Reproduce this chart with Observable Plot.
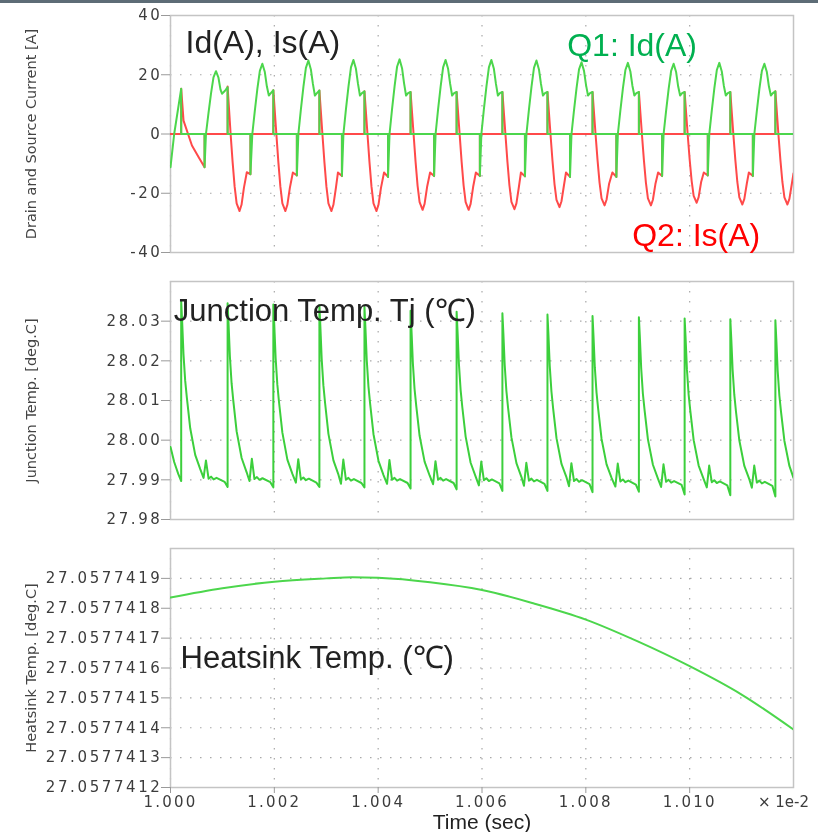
<!DOCTYPE html>
<html><head><meta charset="utf-8">
<script src="https://cdn.jsdelivr.net/npm/d3@7"></script>
<script src="https://cdn.jsdelivr.net/npm/@observablehq/plot@0.6"></script>
<style>
html,body{margin:0;padding:0;background:#fff;overflow:hidden}
#wrap{position:relative;width:818px;height:832px;background:#fff;overflow:hidden}
#bar{position:absolute;left:0;top:0;width:818px;height:3px;background:#5d6c76;z-index:2}
.panel{position:absolute;left:0}
.panel svg{display:block}
g[aria-label="y-axis tick label"]{letter-spacing:2.6px}
g[aria-label="x-axis tick label"]{letter-spacing:2.2px}
</style></head><body><div id="wrap"><div id="bar"></div></div>
<script>
// ---- tick values ----
const timeTicks = [1.000, 1.002, 1.004, 1.006, 1.008, 1.010];
const currentTicks = [-40, -20, 0, 20, 40];
const tjTicks = [27.98, 27.99, 28.00, 28.01, 28.02, 28.03];
const heatTicks = [27.0577412, 27.0577413, 27.0577414, 27.0577415, 27.0577416, 27.0577417, 27.0577418, 27.0577419];

// ---- Q1: Id(A)  [time (x1e-2 s), current A] ----
const q1Id = [
[1.000000,-11.2],[1.000071,0],[1.000206,15.3],[1.000206,0],[1.000656,0],[1.000656,-11.2],
[1.000683,0],[1.000731,7.0],[1.000780,13.6],[1.000828,19.1],[1.000876,21.2],[1.000924,19.0],[1.000963,15.0],[1.000992,13.6],[1.001050,14.6],[1.001100,15.8],[1.001100,0],[1.001540,0],[1.001540,-13.6],
[1.001576,0],[1.001624,7.8],[1.001673,15.2],[1.001721,21.3],[1.001769,23.7],[1.001817,20.9],[1.001856,16.1],[1.001894,13.0],[1.001933,13.8],[1.001981,14.8],[1.001981,0],[1.002434,0],[1.002434,-14.0],
[1.002463,0],[1.002511,8.2],[1.002560,15.9],[1.002608,22.3],[1.002656,24.8],[1.002704,21.8],[1.002743,16.9],[1.002781,13.0],[1.002820,13.8],[1.002868,14.7],[1.002868,0],[1.003302,0],[1.003302,-14.2],
[1.003331,0],[1.003379,8.3],[1.003428,16.0],[1.003476,22.5],[1.003524,25.0],[1.003572,22.0],[1.003611,17.0],[1.003649,13.0],[1.003688,13.8],[1.003736,14.4],[1.003736,0],[1.004190,0],[1.004190,-14.5],
[1.004219,0],[1.004267,8.3],[1.004316,16.1],[1.004364,22.7],[1.004412,25.2],[1.004460,22.2],[1.004499,17.1],[1.004537,13.0],[1.004576,13.8],[1.004624,14.2],[1.004624,0],[1.005077,0],[1.005077,-14.2],
[1.005106,0],[1.005154,8.3],[1.005203,16.0],[1.005251,22.5],[1.005299,25.0],[1.005347,22.0],[1.005386,17.0],[1.005424,13.0],[1.005463,13.8],[1.005511,14.2],[1.005511,0],[1.005959,0],[1.005959,-14.2],
[1.005988,0],[1.006036,8.3],[1.006085,16.0],[1.006133,22.5],[1.006181,25.0],[1.006229,22.0],[1.006268,17.0],[1.006306,13.0],[1.006345,13.8],[1.006393,14.2],[1.006393,0],[1.006827,0],[1.006827,-14.3],
[1.006856,0],[1.006904,8.2],[1.006953,15.9],[1.007001,22.3],[1.007049,24.8],[1.007097,21.8],[1.007136,16.9],[1.007174,13.0],[1.007213,13.8],[1.007261,14.2],[1.007261,0],[1.007695,0],[1.007695,-14.5],
[1.007724,0],[1.007772,8.0],[1.007821,15.5],[1.007869,21.8],[1.007917,24.2],[1.007965,21.3],[1.008004,16.5],[1.008042,13.0],[1.008081,13.8],[1.008129,14.2],[1.008129,0],[1.008588,0],[1.008588,-14.5],
[1.008617,0],[1.008665,7.9],[1.008714,15.4],[1.008762,21.6],[1.008810,24.0],[1.008858,21.1],[1.008897,16.3],[1.008935,13.0],[1.008974,13.8],[1.009022,14.2],[1.009022,0],[1.009469,0],[1.009469,-14.2],
[1.009498,0],[1.009546,7.8],[1.009595,15.2],[1.009643,21.3],[1.009691,23.7],[1.009739,20.9],[1.009778,16.1],[1.009816,13.0],[1.009855,13.8],[1.009903,14.2],[1.009903,0],[1.010349,0],[1.010349,-14.0],
[1.010378,0],[1.010426,7.9],[1.010475,15.4],[1.010523,21.6],[1.010571,24.0],[1.010619,21.1],[1.010658,16.3],[1.010696,13.0],[1.010735,13.8],[1.010783,14.2],[1.010783,0],[1.011217,0],[1.011217,-14.2],
[1.011246,0],[1.011294,7.8],[1.011343,15.2],[1.011391,21.3],[1.011439,23.7],[1.011487,20.9],[1.011526,16.1],[1.011564,13.0],[1.011603,13.8],[1.011651,14.4],[1.011651,0],[1.012000,0]
];

// ---- Q2: Is(A) ----
const q2Is = [
[1.000000,0],[1.000206,0],[1.000206,15.3],[1.000251,4.5],[1.000413,-3.9],[1.000540,-7.8],[1.000656,-11.2],[1.000656,0],
[1.001100,0],[1.001100,16.0],[1.001129,8.0],[1.001158,0],[1.001197,-9.6],[1.001235,-17.7],[1.001274,-23.4],[1.001330,-26.0],[1.001368,-23.9],[1.001414,-18.2],[1.001470,-12.9],[1.001540,-13.6],[1.001540,0],
[1.001981,0],[1.001981,14.8],[1.002010,7.4],[1.002039,0],[1.002078,-9.6],[1.002116,-17.7],[1.002155,-23.4],[1.002213,-26.0],[1.002251,-23.9],[1.002299,-18.2],[1.002357,-13.0],[1.002434,-14.0],[1.002434,0],
[1.002868,0],[1.002868,14.7],[1.002897,7.4],[1.002926,0],[1.002965,-9.6],[1.003003,-17.7],[1.003042,-23.4],[1.003100,-26.0],[1.003138,-23.9],[1.003186,-18.2],[1.003225,-13.0],[1.003302,-14.2],[1.003302,0],
[1.003736,0],[1.003736,14.4],[1.003765,7.2],[1.003794,0],[1.003833,-9.6],[1.003871,-17.7],[1.003910,-23.4],[1.003968,-26.0],[1.004006,-23.9],[1.004054,-18.2],[1.004113,-13.0],[1.004190,-14.5],[1.004190,0],
[1.004624,0],[1.004624,14.2],[1.004653,7.1],[1.004682,0],[1.004721,-9.5],[1.004759,-17.4],[1.004798,-23.0],[1.004856,-25.6],[1.004894,-23.6],[1.004942,-17.9],[1.005000,-13.0],[1.005077,-14.2],[1.005077,0],
[1.005511,0],[1.005511,14.2],[1.005540,7.1],[1.005569,0],[1.005608,-9.5],[1.005646,-17.4],[1.005685,-23.0],[1.005743,-25.6],[1.005781,-23.6],[1.005829,-17.9],[1.005882,-13.0],[1.005959,-14.2],[1.005959,0],
[1.006393,0],[1.006393,14.2],[1.006422,7.1],[1.006451,0],[1.006490,-9.4],[1.006528,-17.3],[1.006567,-22.9],[1.006625,-25.4],[1.006663,-23.4],[1.006711,-17.8],[1.006750,-13.0],[1.006827,-14.3],[1.006827,0],
[1.007261,0],[1.007261,14.2],[1.007290,7.1],[1.007319,0],[1.007358,-9.1],[1.007396,-16.8],[1.007435,-22.2],[1.007493,-24.7],[1.007531,-22.7],[1.007579,-17.3],[1.007618,-13.0],[1.007695,-14.5],[1.007695,0],
[1.008129,0],[1.008129,14.2],[1.008158,7.1],[1.008187,0],[1.008226,-8.9],[1.008264,-16.4],[1.008303,-21.7],[1.008361,-24.1],[1.008399,-22.2],[1.008447,-16.9],[1.008511,-13.0],[1.008588,-14.5],[1.008588,0],
[1.009022,0],[1.009022,14.2],[1.009051,7.1],[1.009080,0],[1.009119,-8.9],[1.009157,-16.4],[1.009196,-21.7],[1.009254,-24.1],[1.009292,-22.2],[1.009340,-16.9],[1.009392,-13.0],[1.009469,-14.2],[1.009469,0],
[1.009903,0],[1.009903,14.2],[1.009932,7.1],[1.009961,0],[1.010000,-8.6],[1.010038,-15.8],[1.010077,-20.9],[1.010135,-23.2],[1.010173,-21.3],[1.010221,-16.2],[1.010272,-13.0],[1.010349,-14.0],[1.010349,0],
[1.010783,0],[1.010783,14.2],[1.010812,7.1],[1.010841,0],[1.010880,-8.8],[1.010918,-16.2],[1.010957,-21.4],[1.011015,-23.8],[1.011053,-21.9],[1.011101,-16.7],[1.011140,-13.0],[1.011217,-14.2],[1.011217,0],
[1.011651,0],[1.011651,14.4],[1.011680,7.2],[1.011709,0],[1.011748,-8.8],[1.011786,-16.2],[1.011825,-21.4],[1.011883,-23.8],[1.011921,-21.9],[1.011969,-16.7],[1.012000,-13.3]
];

// ---- Junction temperature Tj [deg.C] ----
const tj = [
[1.000000,27.9983],[1.000071,27.9945],[1.000149,27.9915],[1.000206,27.9897],[1.000206,28.0351],
[1.000225,28.0297],[1.000250,28.0217],[1.000283,28.0150],[1.000316,28.0106],[1.000380,28.0030],[1.000476,27.9963],[1.000573,27.9927],[1.000637,27.9905],[1.000683,27.9949],[1.000733,27.9903],[1.000781,27.9908],[1.000830,27.9901],[1.000887,27.9905],[1.001042,27.9895],[1.001100,27.9882],[1.001100,28.0345],
[1.001119,28.0291],[1.001144,28.0211],[1.001177,28.0143],[1.001210,28.0099],[1.001274,28.0022],[1.001370,27.9955],[1.001467,27.9919],[1.001521,27.9897],[1.001567,27.9953],[1.001617,27.9902],[1.001665,27.9907],[1.001714,27.9900],[1.001771,27.9904],[1.001923,27.9894],[1.001981,27.9881],[1.001981,28.0342],
[1.002000,28.0288],[1.002025,28.0207],[1.002058,28.0140],[1.002091,28.0095],[1.002155,28.0019],[1.002251,27.9951],[1.002348,27.9915],[1.002415,27.9893],[1.002461,27.9952],[1.002511,27.9901],[1.002559,27.9906],[1.002608,27.9899],[1.002665,27.9903],[1.002810,27.9893],[1.002868,27.9882],[1.002868,28.0340],
[1.002887,28.0286],[1.002912,28.0205],[1.002945,28.0138],[1.002978,28.0093],[1.003042,28.0016],[1.003138,27.9949],[1.003235,27.9913],[1.003283,27.9890],[1.003329,27.9951],[1.003379,27.9900],[1.003427,27.9905],[1.003476,27.9898],[1.003533,27.9902],[1.003678,27.9892],[1.003736,27.9881],[1.003736,28.0336],
[1.003755,28.0282],[1.003780,28.0202],[1.003813,28.0135],[1.003846,28.0091],[1.003910,28.0015],[1.004006,27.9948],[1.004103,27.9912],[1.004171,27.9890],[1.004217,27.9950],[1.004267,27.9900],[1.004315,27.9905],[1.004364,27.9898],[1.004421,27.9902],[1.004566,27.9892],[1.004624,27.9878],[1.004624,28.0326],
[1.004643,28.0274],[1.004668,28.0195],[1.004701,28.0129],[1.004734,28.0086],[1.004798,28.0011],[1.004894,27.9946],[1.004991,27.9911],[1.005058,27.9889],[1.005104,27.9947],[1.005154,27.9900],[1.005202,27.9905],[1.005251,27.9898],[1.005308,27.9902],[1.005453,27.9892],[1.005511,27.9876],[1.005511,28.0324],
[1.005530,28.0271],[1.005555,28.0193],[1.005588,28.0127],[1.005621,28.0083],[1.005685,28.0009],[1.005781,27.9943],[1.005878,27.9908],[1.005940,27.9886],[1.005986,27.9946],[1.006036,27.9899],[1.006084,27.9904],[1.006133,27.9897],[1.006190,27.9901],[1.006335,27.9891],[1.006393,27.9872],[1.006393,28.0320],
[1.006412,28.0268],[1.006437,28.0190],[1.006470,28.0124],[1.006503,28.0081],[1.006567,28.0007],[1.006663,27.9942],[1.006760,27.9907],[1.006808,27.9885],[1.006854,27.9943],[1.006904,27.9898],[1.006952,27.9903],[1.007001,27.9896],[1.007058,27.9900],[1.007203,27.9890],[1.007261,27.9872],[1.007261,28.0317],
[1.007280,28.0265],[1.007305,28.0187],[1.007338,28.0122],[1.007371,28.0079],[1.007435,28.0005],[1.007531,27.9940],[1.007628,27.9906],[1.007676,27.9884],[1.007722,27.9942],[1.007772,27.9897],[1.007820,27.9902],[1.007869,27.9895],[1.007926,27.9899],[1.008071,27.9889],[1.008129,27.9869],[1.008129,28.0313],
[1.008148,28.0261],[1.008173,28.0184],[1.008206,28.0120],[1.008239,28.0077],[1.008303,28.0003],[1.008399,27.9939],[1.008496,27.9905],[1.008569,27.9883],[1.008615,27.9941],[1.008665,27.9896],[1.008713,27.9901],[1.008762,27.9894],[1.008819,27.9898],[1.008964,27.9888],[1.009022,27.9870],[1.009022,28.0310],
[1.009041,28.0259],[1.009066,28.0182],[1.009099,28.0117],[1.009132,28.0075],[1.009196,28.0002],[1.009292,27.9938],[1.009389,27.9903],[1.009450,27.9882],[1.009496,27.9939],[1.009546,27.9895],[1.009594,27.9900],[1.009643,27.9893],[1.009700,27.9897],[1.009845,27.9887],[1.009903,27.9863],[1.009903,28.0307],
[1.009922,28.0256],[1.009947,28.0179],[1.009980,28.0115],[1.010013,28.0073],[1.010077,28.0000],[1.010173,27.9936],[1.010270,27.9902],[1.010330,27.9881],[1.010376,27.9936],[1.010426,27.9894],[1.010474,27.9899],[1.010523,27.9892],[1.010580,27.9896],[1.010725,27.9886],[1.010783,27.9861],[1.010783,28.0305],
[1.010802,28.0254],[1.010827,28.0178],[1.010860,28.0114],[1.010893,28.0071],[1.010957,27.9999],[1.011053,27.9935],[1.011150,27.9901],[1.011198,27.9880],[1.011244,27.9936],[1.011294,27.9893],[1.011342,27.9898],[1.011391,27.9891],[1.011448,27.9895],[1.011593,27.9885],[1.011651,27.9858],[1.011651,28.0302],
[1.011670,28.0251],[1.011695,28.0175],[1.011728,28.0112],[1.011761,28.0070],[1.011825,27.9998],[1.011921,27.9935],[1.012000,27.9905]
];

// ---- Heatsink temperature [deg.C] ----
const heatsink = [
[1.0000,27.057741836],[1.0010,27.057741867],[1.0020,27.057741889],[1.0030,27.057741900],[1.0035,27.057741904],
[1.0040,27.057741902],[1.0050,27.057741887],[1.0060,27.057741861],[1.0070,27.057741816],[1.0080,27.057741762],
[1.0090,27.057741689],[1.0100,27.057741606],[1.0110,27.057741511],[1.0120,27.057741394]
];

const X = d => d[0], Y = d => d[1];
const tickFont = "DejaVu Sans, Verdana, sans-serif";
const annFont = "Liberation Sans, Arial, Helvetica, sans-serif";
const gridOpts = {stroke: "#a8a8a8", strokeOpacity: 1, strokeWidth: 1.2, strokeDasharray: "1.5,8.5"};

function panel({top, height, mt, mb, yDomain, yTicks, yFormat, yLabel, showX, marks}) {
  const svg = Plot.plot({
    width: 818, height,
    marginLeft: 170, marginRight: 25, marginTop: mt, marginBottom: mb,
    style: {fontFamily: tickFont, background: "white", overflow: "visible"},
    x: {domain: [1.000, 1.012], axis: null},
    y: {domain: yDomain, axis: null},
    marks: [
      Plot.gridX(timeTicks, gridOpts),
      Plot.gridY(yTicks, gridOpts),
      Plot.frame({stroke: "#c4c4c4", strokeWidth: 1.5}),
      Plot.axisY(yTicks, {tickSize: 9, tickPadding: -1, tickFormat: yFormat, stroke: "#9a9a9a", fill: "#3c3c3c", fontSize: 15, fontFamily: tickFont, label: null}),
      showX ? Plot.axisX(timeTicks, {tickSize: 6, tickPadding: 3, tickFormat: d3.format(".3f"), stroke: "#9a9a9a", fill: "#3c3c3c", fontSize: 15, fontFamily: tickFont, label: null}) : null,
      Plot.text([yLabel], {text: d => d, frameAnchor: "left", rotate: -90, dx: -139, fontSize: 14.5, fill: "#444", fontFamily: tickFont, textAnchor: "middle", lineAnchor: "middle"}),
      ...marks
    ]
  });
  const div = document.createElement("div");
  div.className = "panel";
  div.style.top = top + "px";
  div.appendChild(svg);
  document.getElementById("wrap").appendChild(div);
}

// Panel 1: drain / source current
panel({
  top: 0, height: 266, mt: 15, mb: 14,
  yDomain: [-40, 40], yTicks: currentTicks, yFormat: d => String(d),
  yLabel: "Drain and Source Current [A]", showX: false,
  marks: [
    Plot.line(q2Is, {x: X, y: Y, stroke: "#ff4a4a", strokeWidth: 2, mixBlendMode: "multiply", clip: true}),
    Plot.line(q1Id, {x: X, y: Y, stroke: "#4cd64c", strokeWidth: 2, mixBlendMode: "multiply", clip: true}),
    Plot.text(["Id(A), Is(A)"], {text: d => d, frameAnchor: "top-left", dx: 15, dy: 26.8, textAnchor: "start", lineAnchor: "middle", fontSize: 32, fontFamily: annFont, fill: "#222"}),
    Plot.text(["Q1: Id(A)"], {text: d => d, frameAnchor: "top-left", dx: 396.7, dy: 29.8, textAnchor: "start", lineAnchor: "middle", fontSize: 32, fontFamily: annFont, fill: "#00b050"}),
    Plot.text(["Q2: Is(A)"], {text: d => d, frameAnchor: "top-left", dx: 461.7, dy: 219.8, textAnchor: "start", lineAnchor: "middle", fontSize: 32, fontFamily: annFont, fill: "#ff0000"})
  ]
});

// Panel 2: junction temperature
panel({
  top: 266, height: 268, mt: 15, mb: 15,
  yDomain: [27.98, 28.04], yTicks: tjTicks, yFormat: d3.format(".2f"),
  yLabel: "Junction Temp. [deg.C]", showX: false,
  marks: [
    Plot.line(tj, {x: X, y: Y, stroke: "#3ccf3c", strokeWidth: 2, clip: true}),
    Plot.text(["Junction Temp. Tj (\u2103)"], {text: d => d, frameAnchor: "top-left", dx: 3.3, dy: 29.1, textAnchor: "start", lineAnchor: "middle", fontSize: 31, fontFamily: annFont, fill: "#222"})
  ]
});

// Panel 3: heatsink temperature
panel({
  top: 534, height: 298, mt: 14, mb: 45,
  yDomain: [27.0577412, 27.0577420], yTicks: heatTicks, yFormat: d3.format(".7f"),
  yLabel: "Heatsink Temp. [deg.C]", showX: true,
  marks: [
    Plot.line(heatsink, {x: X, y: Y, stroke: "#4cd64c", strokeWidth: 2, curve: "monotone-x", clip: true}),
    Plot.text(["Heatsink Temp. (\u2103)"], {text: d => d, frameAnchor: "top-left", dx: 10, dy: 109.1, textAnchor: "start", lineAnchor: "middle", fontSize: 31, fontFamily: annFont, fill: "#222"}),
    Plot.text(["\u00d7 1e-2"], {text: d => d, frameAnchor: "bottom-right", dx: -10, dy: 9, textAnchor: "middle", lineAnchor: "top", fontSize: 15, fontFamily: tickFont, fill: "#3c3c3c"}),
    Plot.text(["Time (sec)"], {text: d => d, frameAnchor: "bottom", dy: 34.5, textAnchor: "middle", lineAnchor: "middle", fontSize: 21, fontFamily: annFont, fill: "#222"})
  ]
});
</script>
</body></html>
